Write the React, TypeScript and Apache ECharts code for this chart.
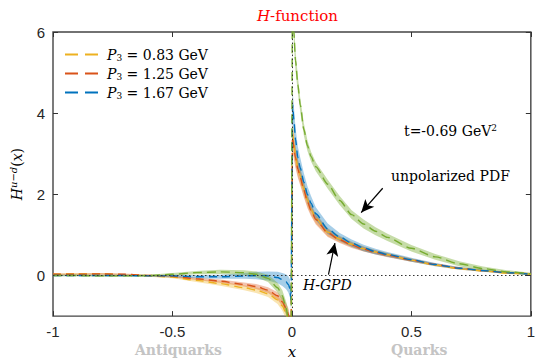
import React, { useEffect, useRef } from 'react';
import * as echarts from 'echarts';

// shared x grid
const X = [-1, -0.9, -0.8, -0.7, -0.6, -0.5, -0.4, -0.3, -0.2, -0.15, -0.1, -0.06, -0.04, -0.025, -0.015, -0.008, -0.004,
  0.003, 0.008, 0.015, 0.025, 0.035, 0.05, 0.065, 0.08, 0.1, 0.15, 0.2, 0.25, 0.3, 0.35, 0.4, 0.5, 0.6, 0.7, 0.8, 0.9, 1.0];

// unpolarized PDF (green)
const PDF = [0.0, 0.0, -0.01, -0.01, 0.0, 0.03, 0.07, 0.09, 0.07, 0.03, -0.07, -0.3, -0.5, -0.8, -1.05, -1.4, -1.8,
  7.5, 6.0, 5.3, 4.7, 4.2, 3.6, 3.2, 2.93, 2.68, 2.25, 1.85, 1.5, 1.27, 1.09, 0.94, 0.67, 0.46, 0.29, 0.17, 0.09, 0.04];
const PDF_ERR = [0.02, 0.02, 0.02, 0.02, 0.02, 0.03, 0.04, 0.05, 0.06, 0.07, 0.09, 0.12, 0.14, 0.17, 0.2, 0.25, 0.3,
  0.4, 0.3, 0.25, 0.2, 0.17, 0.15, 0.13, 0.12, 0.11, 0.11, 0.11, 0.11, 0.11, 0.1, 0.09, 0.08, 0.07, 0.06, 0.05, 0.04, 0.03];

// H-GPD, P3 = 0.83 GeV (yellow)
const GPD_083 = [0.03, 0.04, 0.04, 0.02, -0.01, -0.04, -0.12, -0.2, -0.3, -0.36, -0.45, -0.6, -0.75, -0.92, -1.1, -1.35, -1.8,
  3.5, 3.25, 2.95, 2.66, 2.46, 2.14, 1.86, 1.63, 1.41, 1.07, 0.9, 0.77, 0.66, 0.58, 0.51, 0.38, 0.26, 0.17, 0.11, 0.06, 0.03];
const ERR_083 = [0.02, 0.02, 0.02, 0.02, 0.02, 0.03, 0.04, 0.05, 0.06, 0.07, 0.08, 0.1, 0.12, 0.14, 0.16, 0.18, 0.2,
  0.3, 0.28, 0.25, 0.22, 0.2, 0.18, 0.16, 0.14, 0.12, 0.1, 0.08, 0.07, 0.06, 0.05, 0.05, 0.04, 0.03, 0.03, 0.02, 0.02, 0.02];

// H-GPD, P3 = 1.25 GeV (orange)
const GPD_125 = [0.03, 0.03, 0.04, 0.03, 0.0, -0.02, -0.08, -0.14, -0.22, -0.27, -0.36, -0.5, -0.65, -0.8, -0.95, -1.2, -1.6,
  3.4, 3.15, 2.9, 2.62, 2.42, 2.1, 1.82, 1.6, 1.38, 1.05, 0.88, 0.75, 0.65, 0.57, 0.5, 0.38, 0.27, 0.18, 0.12, 0.07, 0.04];
const ERR_125 = [0.02, 0.02, 0.02, 0.02, 0.02, 0.03, 0.03, 0.04, 0.05, 0.06, 0.07, 0.09, 0.11, 0.13, 0.15, 0.18, 0.2,
  0.3, 0.28, 0.25, 0.22, 0.2, 0.18, 0.16, 0.14, 0.12, 0.1, 0.08, 0.07, 0.06, 0.05, 0.05, 0.04, 0.03, 0.03, 0.02, 0.02, 0.02];

// H-GPD, P3 = 1.67 GeV (blue)
const GPD_167 = [0.0, 0.0, 0.0, 0.0, -0.01, -0.01, -0.03, -0.03, -0.01, 0.0, -0.01, -0.05, -0.1, -0.15, -0.22, -0.32, -0.6,
  4.2, 3.85, 3.35, 2.9, 2.65, 2.3, 2.0, 1.78, 1.52, 1.15, 0.95, 0.8, 0.68, 0.59, 0.52, 0.39, 0.27, 0.18, 0.12, 0.07, 0.03];
const ERR_167 = [0.02, 0.02, 0.02, 0.02, 0.02, 0.03, 0.04, 0.05, 0.07, 0.09, 0.11, 0.14, 0.16, 0.18, 0.2, 0.22, 0.25,
  0.35, 0.33, 0.3, 0.27, 0.25, 0.22, 0.2, 0.18, 0.16, 0.13, 0.1, 0.09, 0.08, 0.07, 0.06, 0.05, 0.04, 0.03, 0.03, 0.02, 0.02];

const P3_LABELS = ['0.83', '1.25', '1.67'];
const X_TICKS = [-1, -0.5, 0, 0.5, 1];
const Y_TICKS = [0, 2, 4, 6];
// annotation arrows [from, to] in data coordinates
const ARROW_PDF = [[0.38, 2.15], [0.29, 1.55]];
const ARROW_GPD = [[0.153, 0.02], [0.18, 0.8]];

const SERIF = 'DejaVu Serif';
const SANS = 'Liberation Sans';

const COLORS = ['#EDB120', '#D95319', '#0072BD', '#77AC30'];
const BAND_FILLS = ['rgba(237,177,32,0.35)', 'rgba(217,83,25,0.35)', 'rgba(0,114,189,0.35)', 'rgba(119,172,48,0.42)'];
const DASH_ICON = 'path://M0,0H13V2H0Z M20,0H33V2H20Z';

export default function App() {
  const ref = useRef<HTMLDivElement>(null);
  useEffect(() => {
    document.body.style.margin = '0';
    const chart = echarts.init(ref.current!, null, { renderer: 'svg' });

    const values = [GPD_083, GPD_125, GPD_167, PDF];
    const errs = [ERR_083, ERR_125, ERR_167, PDF_ERR];

    const bandSeries = values.map((vals, k) => ({
      type: 'custom',
      name: 'band' + k,
      clip: true,
      silent: true,
      z: 1,
      data: X.map((x, i) => [x, vals[i] - errs[k][i], vals[i] + errs[k][i]]),
      encode: { x: 0, y: [1, 2] },
      renderItem: (params: any, api: any) => {
        if (params.dataIndex !== 0) return null;
        const lower = X.map((x, i) => api.coord([x, vals[i] - errs[k][i]]));
        const upper = X.map((x, i) => api.coord([x, vals[i] + errs[k][i]])).reverse();
        return {
          type: 'polygon',
          shape: { points: lower.concat(upper), smooth: 0 },
          style: { fill: BAND_FILLS[k], stroke: 'none' },
        };
      },
    }));

    const legendNames = P3_LABELS.map((p) => `P3 = ${p} GeV`);

    const lineSeries: any[] = values.map((vals, k) => ({
      type: 'line',
      name: k < 3 ? legendNames[k] : 'unpolarized PDF',
      data: X.map((x, i) => [x, vals[i]]),
      showSymbol: false,
      symbol: 'none',
      smooth: 0.25,
      smoothMonotone: 'x',
      z: 3,
      color: COLORS[k],
      lineStyle: { color: COLORS[k], width: 1.4, type: k === 3 ? [9, 5] : [8, 5] },
      silent: true,
    }));

    lineSeries[2].markLine = {
      silent: true,
      symbol: 'none',
      label: { show: false },
      lineStyle: { color: '#333', width: 1, type: [1.5, 2.5] },
      data: [{ yAxis: 0 }, { xAxis: 0 }],
    };
    lineSeries[3].markLine = {
      silent: true,
      symbol: ['none', 'arrow'],
      symbolSize: [9, 13],
      label: { show: false },
      lineStyle: { color: '#000', width: 1.2, type: 'solid' },
      data: [
        [{ coord: ARROW_PDF[0] }, { coord: ARROW_PDF[1] }],
        [{ coord: ARROW_GPD[0] }, { coord: ARROW_GPD[1] }],
      ],
    };

    const tickStyle = { inside: true, length: 5, lineStyle: { color: '#333', width: 1 } };

    const option: any = {
      animation: false,
      backgroundColor: '#fff',
      title: {
        text: '{i|H}{n|-function}',
        left: 252,
        top: 3,
        textStyle: {
          fontWeight: 'normal',
          rich: {
            i: { fontFamily: SERIF, fontStyle: 'italic', fontWeight: 'normal', fontSize: 15, color: '#ff0000' },
            n: { fontFamily: SERIF, fontWeight: 'normal', fontSize: 15, color: '#ff0000' },
          },
        },
      },
      legend: {
        data: legendNames.map((n) => ({ name: n, icon: DASH_ICON })),
        left: 60,
        top: 42,
        orient: 'vertical',
        itemWidth: 33,
        itemHeight: 2,
        itemGap: 4,
        formatter: (name: string) => {
          const idx = legendNames.indexOf(name);
          return `{i|P}{s|3}{n| = ${P3_LABELS[idx]} GeV}`;
        },
        textStyle: {
          padding: [0, 0, 0, 4],
          rich: {
            i: { fontFamily: SERIF, fontStyle: 'italic', fontSize: 14, color: '#000', lineHeight: 17 },
            s: { fontFamily: SERIF, fontSize: 9, color: '#000', padding: [6, 0, 0, 0], lineHeight: 17 },
            n: { fontFamily: SERIF, fontSize: 14, color: '#000', lineHeight: 17 },
          },
        },
      },
      grid: { left: 51, right: 2, top: 32, bottom: 45, show: true, borderColor: '#444', borderWidth: 1.4, backgroundColor: 'transparent' },
      xAxis: [
        {
          type: 'value', min: -1, max: 1, interval: 0.5, position: 'bottom',
          axisLine: { show: false, onZero: false },
          axisTick: tickStyle,
          splitLine: { show: false },
          axisLabel: { margin: 8, fontFamily: SANS, fontSize: 15, color: '#262626', customValues: X_TICKS },
          name: 'x', nameLocation: 'middle', nameGap: 27,
          nameTextStyle: { fontFamily: SERIF, fontStyle: 'italic', fontSize: 15, color: '#000' },
        },
        {
          type: 'value', min: -1, max: 1, interval: 0.5, position: 'top',
          axisLine: { show: false, onZero: false },
          axisTick: tickStyle,
          splitLine: { show: false },
          axisLabel: { show: false },
        },
      ],
      yAxis: [
        {
          type: 'value', min: -1, max: 6, position: 'left',
          axisLine: { show: false, onZero: false },
          axisTick: { ...tickStyle, customValues: Y_TICKS },
          splitLine: { show: false },
          axisLabel: { margin: 8, fontFamily: SANS, fontSize: 15, color: '#262626', customValues: Y_TICKS },
          name: '{i|H}{sup|u−d}{n|(}{i|x}{n|)}',
          nameLocation: 'middle', nameRotate: 90, nameGap: 28,
          nameTextStyle: {
            rich: {
              i: { fontFamily: SERIF, fontStyle: 'italic', fontSize: 14, color: '#000' },
              sup: { fontFamily: SERIF, fontStyle: 'italic', fontSize: 10, color: '#000', padding: [0, 0, 7, 0] },
              n: { fontFamily: SERIF, fontSize: 14, color: '#000' },
            },
          },
        },
        {
          type: 'value', min: -1, max: 6, position: 'right',
          axisLine: { show: false, onZero: false },
          axisTick: { ...tickStyle, customValues: Y_TICKS },
          splitLine: { show: false },
          axisLabel: { show: false },
        },
      ],
      graphic: [
        {
          type: 'text', left: 404, top: 123,
          style: {
            text: '{n|t=-0.69 GeV}{sup|2}',
            rich: {
              n: { fontFamily: SERIF, fontSize: 14, fill: '#000' },
              sup: { fontFamily: SERIF, fontSize: 9, fill: '#000', padding: [0, 0, 7, 0] },
            },
          },
        },
        {
          type: 'text', left: 391, top: 169,
          style: { text: 'unpolarized PDF', fontFamily: SERIF, fontSize: 14, fill: '#000' },
        },
        {
          type: 'text', left: 303, top: 278,
          style: { text: 'H-GPD', fontFamily: SERIF, fontStyle: 'italic', fontSize: 14, fill: '#000' },
        },
        {
          type: 'text', left: 135, top: 343,
          style: { text: 'Antiquarks', fontFamily: SERIF, fontWeight: 'bold', fontSize: 14, fill: '#c4c4c4' },
        },
        {
          type: 'text', left: 391, top: 343,
          style: { text: 'Quarks', fontFamily: SERIF, fontWeight: 'bold', fontSize: 14, fill: '#c4c4c4' },
        },
      ],
      series: [...bandSeries, ...lineSeries],
    };

    chart.setOption(option);
    return () => chart.dispose();
  }, []);
  return <div ref={ref} style={{ width: 538, height: 364 }} />;
}
